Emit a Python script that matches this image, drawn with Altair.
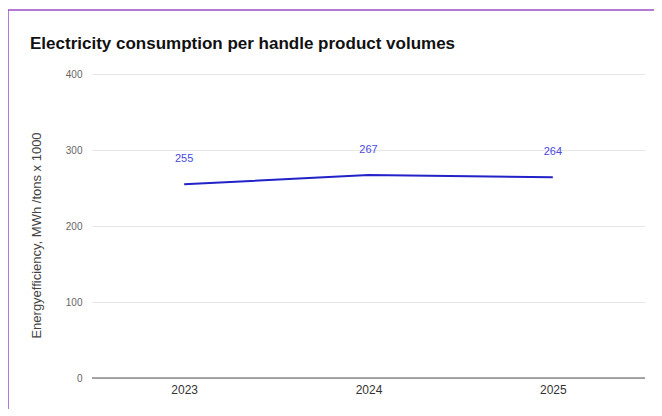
import altair as alt
import pandas as pd

years = ["2023", "2024", "2025"]
values = [255, 267, 264]
title_text = ["Electricity consumption per handle product volumes"]

df = pd.DataFrame({"year": years, "value": values})

W, H = 553, 304

x = alt.X("year:N", scale=alt.Scale(type="point", padding=0.5),
          axis=alt.Axis(title=None, labelAngle=0, domain=False, ticks=False, grid=False,
                        labelFont="Liberation Sans", labelFontSize=12, labelColor="#333333",
                        labelPadding=6))
y = alt.Y("value:Q", scale=alt.Scale(domain=[0, 400]),
          axis=alt.Axis(title="Energyefficiency, MWh /tons x 1000", values=[0, 100, 200, 300, 400],
                        domain=False, ticks=False, grid=True, gridColor="#e6e6e6",
                        labelFont="Liberation Sans", labelFontSize=10, labelColor="#666666",
                        labelPadding=10, titleFont="Liberation Sans", titleFontSize=13,
                        titleFontWeight="normal", titleColor="#444444", titlePadding=22,
                        titleY=H / 2 + 9))

base = alt.Chart(df)

zero = alt.Chart(pd.DataFrame({"z": [0]})).mark_rule(color="#555555", strokeWidth=1.2).encode(
    y=alt.Y("z:Q", scale=alt.Scale(domain=[0, 400])))

line = base.mark_line(color="#2222c8", strokeWidth=2).encode(x=x, y=y)
labels = base.mark_text(color="#4a4ae0", font="Liberation Sans", fontSize=11, dy=-25).encode(
    x=x, y=y, text=alt.Text("value:Q"))

title = alt.Chart(pd.DataFrame({"t": title_text})).mark_text(
    align="left", baseline="alphabetic", font="Liberation Sans", fontSize=17, fontWeight="bold",
    color="#111111", clip=False).encode(x=alt.value(-62), y=alt.value(-25), text="t:N")

top_border = alt.Chart(pd.DataFrame({"a": [0]})).mark_rule(color="#9b4dc6", strokeWidth=1.5, clip=False).encode(
    x=alt.value(-84), x2=alt.value(W + 20), y=alt.value(-64))
left_border = alt.Chart(pd.DataFrame({"a": [0]})).mark_rule(color="#9b4dc6", strokeWidth=1.5, clip=False).encode(
    x=alt.value(-84), y=alt.value(-64), y2=alt.value(H + 60))

chart = alt.layer(zero, line, labels, title, top_border, left_border).properties(
    width=W, height=H,
    autosize=alt.AutoSizeParams(type="none"),
    padding={"left": 84, "top": 66, "right": 9, "bottom": 31},
).configure_view(stroke=None)

chart.save("out.html", embed_options={"renderer": "svg", "actions": False})
